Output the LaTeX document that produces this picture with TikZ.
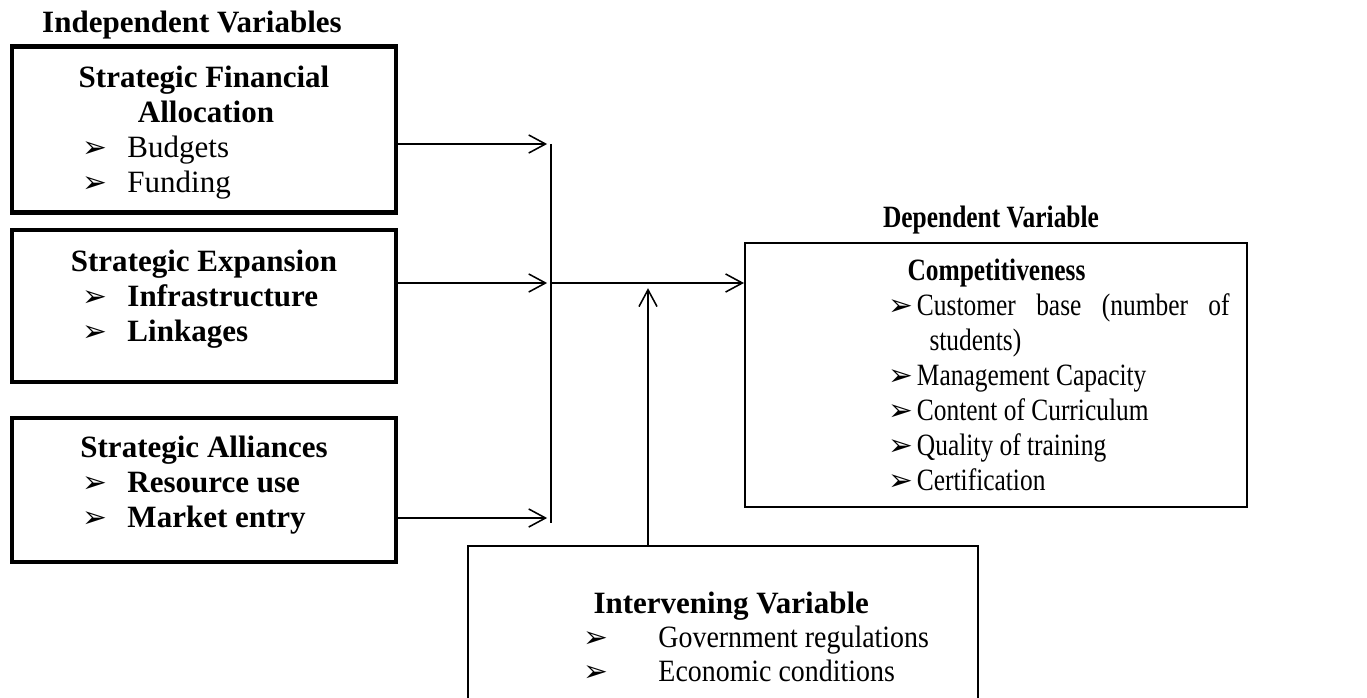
\documentclass[tikz,border=0pt]{standalone}
\usepackage{fontspec}
\setmainfont{Liberation Serif}
\newfontfamily\depfont[FakeStretch=0.82]{Liberation Serif}
\newfontfamily\intfont[FakeStretch=0.9]{Liberation Serif}
\newfontfamily\dingfont{DejaVu Sans}
\usetikzlibrary{positioning, arrows.meta}
\newcommand{\bul}{{\dingfont\fontsize{11.5}{11.5}\selectfont\char"27A2}}

\begin{document}
\begin{tikzpicture}[x=0.387pt, y=-0.387pt,
    indep/.style={draw, line width=1.9pt, inner sep=0pt, minimum width=148.6pt},
    outer/.style={draw, line width=0.75pt, inner sep=0pt},
    head/.style={anchor=base, inner sep=0pt, font=\fontsize{12}{13.5}\selectfont\bfseries},
    item/.style={anchor=base west, inner sep=0pt, font=\fontsize{12}{13.5}\selectfont},
    depitem/.style={item, font=\depfont\fontsize{12}{13.5}\selectfont},
    intitem/.style={item, font=\intfont\fontsize{12}{13.5}\selectfont},
    flow/.style={-{Straight Barb[length=6.5pt, width=7pt]}, line width=0.6pt, shorten >=1.5pt},
    link/.style={line width=0.6pt}
  ]
  \useasboundingbox (0,0) rectangle (1367,698);

  \node[head] (indtitle) at (192,33) {Independent Variables};

  \node[indep, minimum height=63.9pt] (fin) at (204,129.5) {};
  \node[head] (fin1) at (204,88)  {Strategic Financial};
  \node[head] (fin2) at (206,123) {Allocation};
  \node[item] (fin3) at (82,158)  {\makebox[17.4pt][l]{\bul}Budgets};
  \node[item] (fin4) at (82,193)  {\makebox[17.4pt][l]{\bul}Funding};

  \node[indep, minimum height=58.8pt] (exp) at (204,306) {};
  \node[head] (exp1) at (204,271) {Strategic Expansion};
  \node[item] (exp2) at (82,306)  {\makebox[17.4pt][l]{\bul}\textbf{Infrastructure}};
  \node[item] (exp3) at (82,341)  {\makebox[17.4pt][l]{\bul}\textbf{Linkages}};

  \node[indep, minimum height=55.7pt] (all) at (204,490) {};
  \node[head] (all1) at (204,457) {Strategic Alliances};
  \node[item] (all2) at (82,492)  {\makebox[17.4pt][l]{\bul}\textbf{Resource use}};
  \node[item] (all3) at (82,527)  {\makebox[17.4pt][l]{\bul}\textbf{Market entry}};

  \node[head, font=\depfont\fontsize{12}{13.5}\selectfont\bfseries] (deptitle) at (991,228) {Dependent Variable};
  \node[outer, minimum width=194.3pt, minimum height=102.2pt] (dep) at (996,375) {};
  \node[depitem] (dep1) at (907,280) {\textbf{Competitiveness}};
  \node[depitem] (dep2) at (888,315) {\makebox[11pt][l]{\bul}\makebox[121pt][s]{Customer base (number of}};
  \node[depitem] (dep3) at (929,350) {students)};
  \node[depitem] (dep4) at (888,385) {\makebox[11pt][l]{\bul}Management Capacity};
  \node[depitem] (dep5) at (888,420) {\makebox[11pt][l]{\bul}Content of Curriculum};
  \node[depitem] (dep6) at (888,455) {\makebox[11pt][l]{\bul}Quality of training};
  \node[depitem] (dep7) at (888,490) {\makebox[11pt][l]{\bul}Certification};

  \node[outer, line width=0.6pt, minimum width=197.4pt, minimum height=82.8pt] (inter) at (723,653) {};
  \node[item] (int1) at (593,613) {\textbf{Intervening Variable}};
  \node[intitem] (int2) at (583,647) {\makebox[29pt][l]{\bul}Government regulations};
  \node[intitem] (int3) at (583,681) {\makebox[29pt][l]{\bul}Economic conditions};

  \coordinate (j1) at (551,144);
  \coordinate (j2) at (551,283);
  \coordinate (j3) at (551,518);
  \coordinate (j4) at (551,523);
  \coordinate (k)  at (648,283);

  \draw[flow] (fin.east |- j1) -- (j1);
  \draw[flow] (exp.east |- j2) -- (j2);
  \draw[flow] (all.east |- j3) -- (j3);
  \draw[link] (j1) -- (j4);
  \draw[flow, shorten >=0pt] (j2) -- (j2 -| dep.west);
  \draw[flow, shorten >=2pt] (inter.north -| k) -- (k);
\end{tikzpicture}
\end{document}
